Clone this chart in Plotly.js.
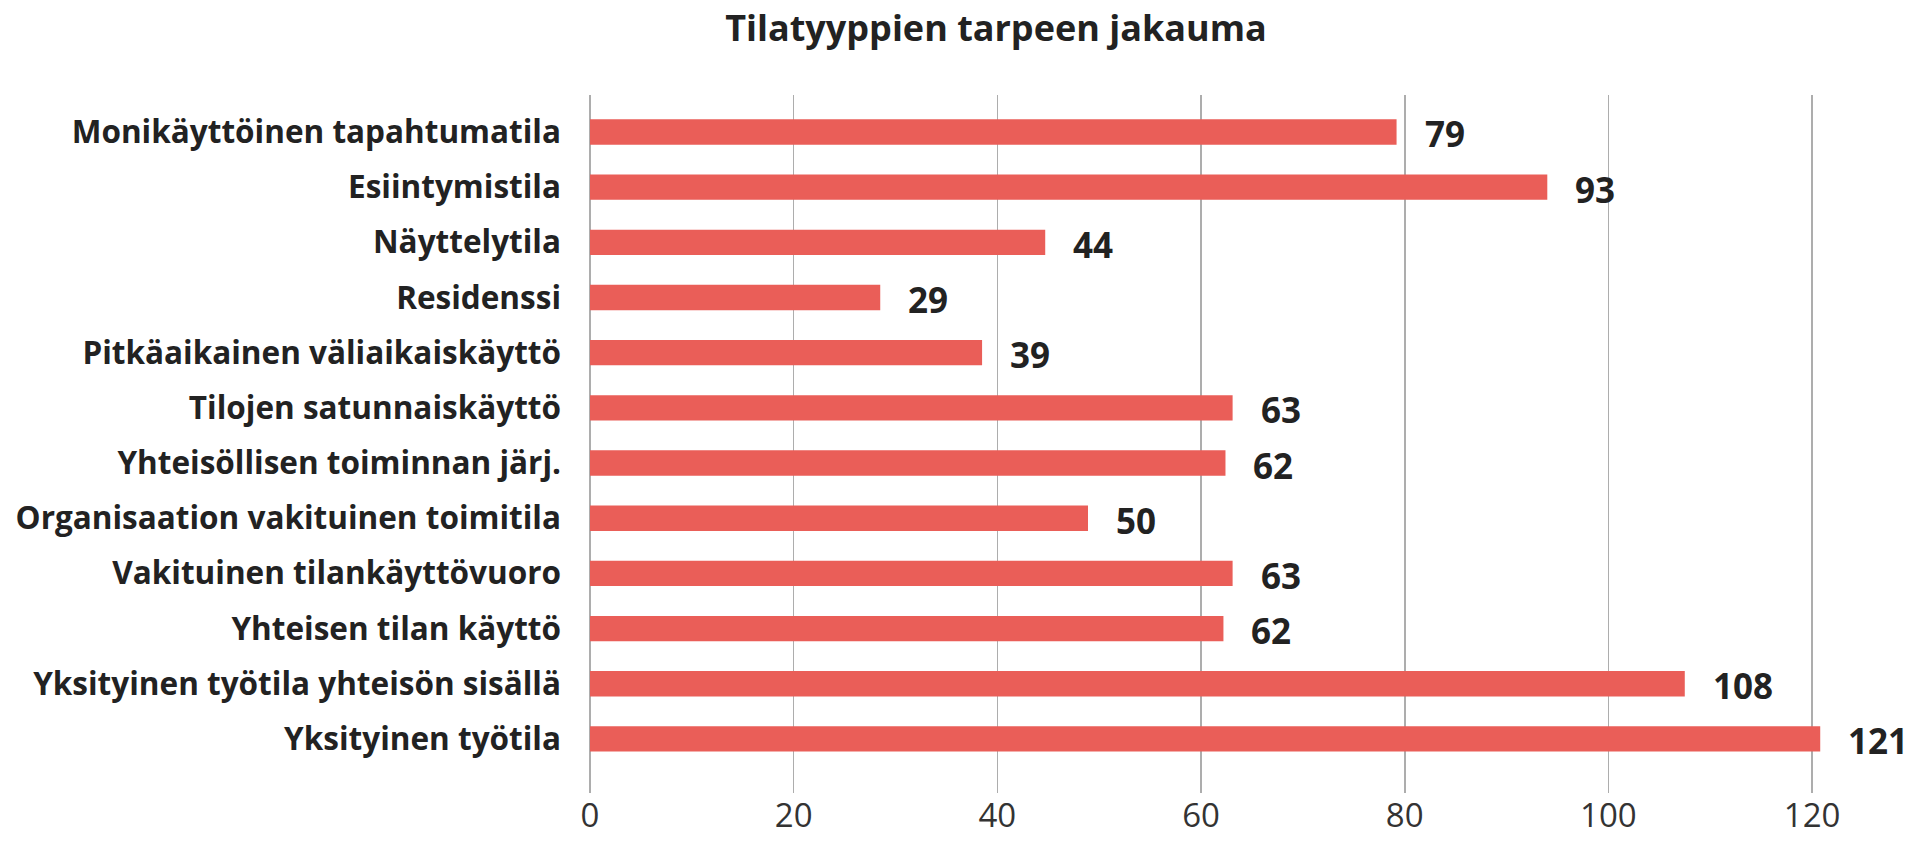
<!DOCTYPE html>
<html>
<head>
<meta charset="utf-8">
<script src="https://cdn.plot.ly/plotly-3.0.1.min.js"></script>
<style>
  html, body { margin: 0; padding: 0; background: #ffffff; }
  #chart { width: 1908px; height: 842px; }
</style>
</head>
<body>
<div id="chart"></div>
<script>
// Categories, top to bottom as shown
const categories = [
  "Monikäyttöinen tapahtumatila",
  "Esiintymistila",
  "Näyttelytila",
  "Residenssi",
  "Pitkäaikainen väliaikaiskäyttö",
  "Tilojen satunnaiskäyttö",
  "Yhteisöllisen toiminnan järj.",
  "Organisaation vakituinen toimitila",
  "Vakituinen tilankäyttövuoro",
  "Yhteisen tilan käyttö",
  "Yksityinen työtila yhteisön sisällä",
  "Yksityinen työtila"
];
// Bar lengths as drawn in the picture
const barValues = [79.2, 94, 44.7, 28.5, 38.5, 63.1, 62.4, 48.9, 63.1, 62.2, 107.5, 120.8];
// Value labels as printed next to the bars
const valueLabels = ["79", "93", "44", "29", "39", "63", "62", "50", "63", "62", "108", "121"];
// X axis ticks
const xTicks = [0, 20, 40, 60, 80, 100, 120];
const chartTitle = "Tilatyyppien tarpeen jakauma";

const FONT = "Open Sans, Noto Sans, sans-serif";
const TEXT = "#222222";
const GRID = "#adadad";

const trace = {
  type: "bar",
  orientation: "h",
  x: barValues,
  y: categories,
  marker: { color: "#EA5E58" },
  hoverinfo: "x+y"
};

const annotations = categories.map((c, i) => ({
  x: barValues[i],
  y: c,
  xref: "x",
  yref: "y",
  text: valueLabels[i],
  showarrow: false,
  xanchor: "left",
  yanchor: "middle",
  xshift: 26,
  yshift: -2,
  font: { family: FONT, size: 35, color: TEXT, weight: "bold" }
}));

const layout = {
  width: 1908,
  height: 842,
  paper_bgcolor: "#ffffff",
  plot_bgcolor: "#ffffff",
  margin: { l: 590, r: 45, t: 95, b: 49, pad: 0 },
  title: {
    text: chartTitle,
    x: 0.522,
    xref: "container",
    xanchor: "center",
    y: 0.966,
    yref: "container",
    yanchor: "middle",
    font: { family: FONT, size: 36, color: TEXT, weight: "bold" }
  },
  showlegend: false,
  bargap: 0.54,
  xaxis: {
    range: [0, 125],
    tickvals: xTicks,
    ticktext: xTicks.map(String),
    showgrid: true,
    gridcolor: GRID,
    gridwidth: 1.6,
    zeroline: true,
    zerolinecolor: GRID,
    zerolinewidth: 1.6,
    showline: false,
    ticks: "",
    ticklabelstandoff: 0,
    tickfont: { family: FONT, size: 33, color: "#333333" },
    fixedrange: true
  },
  yaxis: {
    type: "category",
    categoryorder: "array",
    categoryarray: categories,
    range: [11.98, -0.67],
    showgrid: false,
    zeroline: false,
    showline: false,
    ticks: "",
    ticklabelstandoff: 28,
    tickfont: { family: FONT, size: 31.5, color: TEXT, weight: "bold" },
    fixedrange: true
  },
  annotations: annotations
};

Plotly.newPlot("chart", [trace], layout, { displayModeBar: false, staticPlot: true });
</script>
</body>
</html>
